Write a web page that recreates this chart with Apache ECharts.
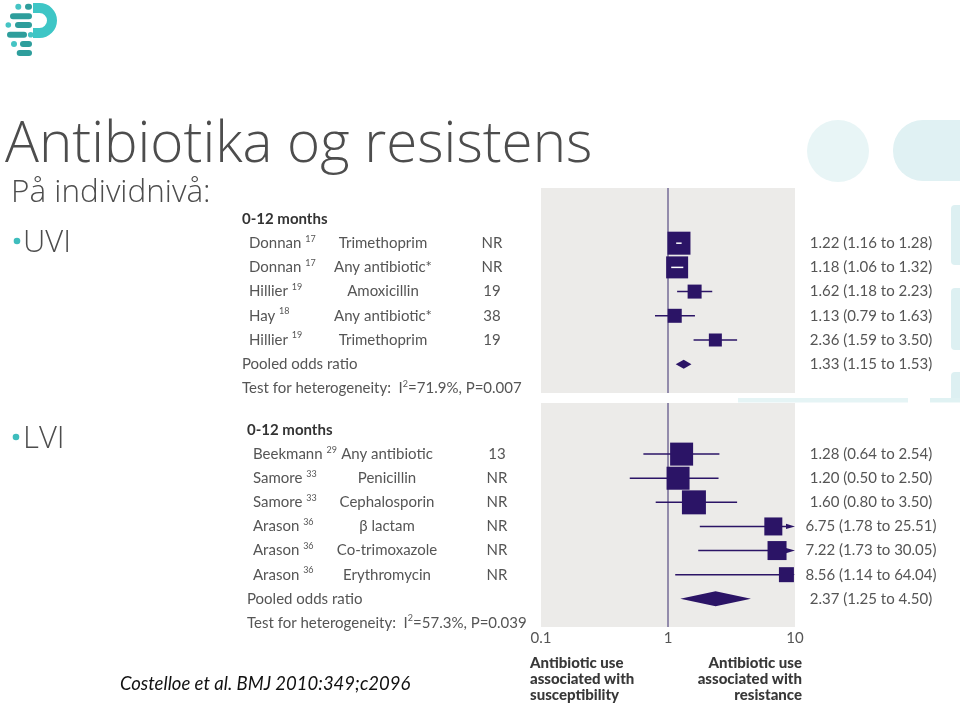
<!DOCTYPE html>
<html><head><meta charset="utf-8">
<script src="https://cdn.jsdelivr.net/npm/echarts@6/dist/echarts.min.js"></script>
<style>html,body{margin:0;padding:0;background:#fff;}#c{width:960px;height:706px;}</style>
</head><body><div id="c"></div><script>
// ---------- DATA ----------
const uviStudy  = ['Donnan', 'Donnan', 'Hillier', 'Hay', 'Hillier'];
const uviRef    = ['17', '17', '19', '18', '19'];
const uviDrug   = ['Trimethoprim', 'Any antibiotic*', 'Amoxicillin', 'Any antibiotic*', 'Trimethoprim'];
const uviN      = ['NR', 'NR', '19', '38', '19'];
const uviOR     = [1.22, 1.18, 1.62, 1.13, 2.36];
const uviLow    = [1.16, 1.06, 1.18, 0.79, 1.59];
const uviHigh   = [1.28, 1.32, 2.23, 1.63, 3.50];
const uviWeight = [23, 22, 14, 14, 13];
const uviPooled = [1.33, 1.15, 1.53];
const uviI2 = '71.9%';
const uviP  = '0.007';

const lviStudy  = ['Beekmann', 'Samore', 'Samore', 'Arason', 'Arason', 'Arason'];
const lviRef    = ['29', '33', '33', '36', '36', '36'];
const lviDrug   = ['Any antibiotic', 'Penicillin', 'Cephalosporin', 'β lactam', 'Co-trimoxazole', 'Erythromycin'];
const lviN      = ['13', 'NR', 'NR', 'NR', 'NR', 'NR'];
const lviOR     = [1.28, 1.20, 1.60, 6.75, 7.22, 8.56];
const lviLow    = [0.64, 0.50, 0.80, 1.78, 1.73, 1.14];
const lviHigh   = [2.54, 2.50, 3.50, 25.51, 30.05, 64.04];
const lviWeight = [23, 23, 24, 18, 19, 15];
const lviPooled = [2.37, 1.25, 4.50];
const lviI2 = '57.3%';
const lviP  = '0.039';

const groupHeader = '0-12 months';
const axisTickValues = [0.1, 1, 10];
const axisTickLabels = ['0.1', '1', '10'];
const axisMin = 0.1, axisMax = 10;

// ---------- STYLE ----------
const NAVY = '#2b1466';
const GRAYBG = '#ecebe9';
const TXT = '#555555';
const FONT = 'Lato';
const SLIDEFONT = 'Open Sans';

const chart = echarts.init(document.getElementById('c'), null, {renderer: 'canvas'});

function fmt(v) { return v.toFixed(2); }
function ciText(or, lo, hi) { return fmt(or) + ' (' + fmt(lo) + ' to ' + fmt(hi) + ')'; }

function makeStudyRenderer(low, high, weight) {
  return function (params, api) {
    const i = params.dataIndex;
    const or = api.value(0), row = api.value(1);
    const cs = params.coordSys;
    const left = cs.x, right = cs.x + cs.width;
    const c = api.coord([or, row]);
    const yc = c[1];
    const xl = Math.max(left, api.coord([low[i], row])[0]);
    const over = high[i] > axisMax;
    const xh = over ? right : api.coord([high[i], row])[0];
    const s = weight[i];
    const children = [];
    const inside = xl >= c[0] - s / 2 && xh <= c[0] + s / 2;
    if (!inside) {
      children.push({type: 'line', shape: {x1: xl, y1: yc, x2: over ? right - 8 : xh, y2: yc},
        style: {stroke: NAVY, lineWidth: 1.5}});
      if (over) {
        children.push({type: 'polygon', shape: {points: [[right - 9, yc - 2.6], [right, yc], [right - 9, yc + 2.6]]},
          style: {fill: NAVY}});
      }
    }
    children.push({type: 'rect', shape: {x: c[0] - s / 2, y: yc - s / 2, width: s, height: s}, style: {fill: NAVY}});
    if (inside) {
      children.push({type: 'line', shape: {x1: xl, y1: yc, x2: xh, y2: yc}, style: {stroke: '#ffffff', lineWidth: 1.5}});
    }
    return {type: 'group', children: children};
  };
}

function makeDiamondRenderer(pooled, halfH) {
  return function (params, api) {
    const row = api.value(1);
    const c = api.coord([pooled[0], row]);
    const l = api.coord([pooled[1], row])[0];
    const r = api.coord([pooled[2], row])[0];
    return {type: 'polygon', shape: {points: [[l, c[1]], [c[0], c[1] - halfH], [r, c[1]], [c[0], c[1] + halfH]]},
      style: {fill: NAVY}};
  };
}

function refLineRenderer(params, api) {
  const cs = params.coordSys;
  const x = api.coord([api.value(0), 0])[0];
  return {type: 'line', shape: {x1: x, y1: cs.y, x2: x, y2: cs.y + cs.height},
    style: {stroke: '#3a2d6e', lineWidth: 1}};
}

function makeTextRenderer(d, cols) {
  const n = d.study.length;
  const rich = {
    t: {fontSize: 15, fontFamily: FONT, fill: TXT, lineHeight: 18},
    s: {fontSize: 9, fontFamily: FONT, fill: TXT, lineHeight: 9, verticalAlign: 'top'}
  };
  return function (params, api) {
    const row = api.value(1);
    const y = api.coord([1, row])[1];
    const kids = [];
    const txt = (x, text, align, extra) => kids.push({type: 'text', x: x, y: y,
      style: Object.assign({text: text, fill: TXT, fontSize: 15, fontFamily: FONT, align: align, verticalAlign: 'middle'}, extra || {})});
    if (row === 0) {
      txt(cols.hdr, groupHeader, 'left', {fontWeight: 'bold', fill: '#333333'});
    } else if (row <= n) {
      const i = row - 1;
      txt(cols.study, '{t|' + d.study[i] + ' }{s|' + d.ref[i] + '}', 'left', {rich: rich});
      txt(cols.drug, d.drug[i], 'center');
      txt(cols.n, d.n[i], 'center');
      txt(cols.val, ciText(d.or[i], d.low[i], d.high[i]), 'center', {fontSize: 15});
    } else if (row === n + 1) {
      txt(cols.hdr, 'Pooled odds ratio', 'left');
      txt(cols.val, ciText(d.pooled[0], d.pooled[1], d.pooled[2]), 'center', {fontSize: 15});
    } else {
      txt(cols.hdr, '{t|Test for heterogeneity:  I}{s|2}{t|=' + d.i2 + ', P=' + d.p + '}', 'left', {rich: rich});
    }
    return {type: 'group', children: kids};
  };
}

const uvi = {study: uviStudy, ref: uviRef, drug: uviDrug, n: uviN, or: uviOR, low: uviLow, high: uviHigh,
  pooled: uviPooled, i2: uviI2, p: uviP};
const lvi = {study: lviStudy, ref: lviRef, drug: lviDrug, n: lviN, or: lviOR, low: lviLow, high: lviHigh,
  pooled: lviPooled, i2: lviI2, p: lviP};

function rows(n) { return Array.from({length: n + 3}, (_, r) => [1, r]); }

const option = {
  animation: false,
  backgroundColor: '#ffffff',
  grid: [
    {left: 541, top: 188, width: 254, height: 205, show: true, backgroundColor: GRAYBG, borderWidth: 0},
    {left: 541, top: 403, width: 254, height: 224, show: true, backgroundColor: GRAYBG, borderWidth: 0}
  ],
  xAxis: [
    {type: 'log', logBase: 10, min: axisMin, max: axisMax, gridIndex: 0, show: false},
    {type: 'log', logBase: 10, min: axisMin, max: axisMax, gridIndex: 1,
      axisLine: {show: false}, axisTick: {show: false}, splitLine: {show: false},
      axisLabel: {margin: 4, color: TXT, fontSize: 15, fontFamily: FONT,
        formatter: v => { const k = axisTickValues.findIndex(t => Math.abs(Math.log10(t) - Math.log10(v)) < 1e-6); return k >= 0 ? axisTickLabels[k] : ''; }}}
  ],
  yAxis: [
    {type: 'value', inverse: true, min: -1.28, max: 7.19, gridIndex: 0, show: false},
    {type: 'value', inverse: true, min: -1.12, max: 8.17, gridIndex: 1, show: false}
  ],
  series: [
    {type: 'custom', xAxisIndex: 0, yAxisIndex: 0, data: [[1, 0]], renderItem: refLineRenderer, silent: true, z: 2},
    {type: 'custom', xAxisIndex: 1, yAxisIndex: 1, data: [[1, 0]], renderItem: refLineRenderer, silent: true, z: 2},
    {type: 'custom', xAxisIndex: 0, yAxisIndex: 0, data: uviOR.map((v, i) => [v, i + 1]),
      renderItem: makeStudyRenderer(uviLow, uviHigh, uviWeight), silent: true, z: 3},
    {type: 'custom', xAxisIndex: 1, yAxisIndex: 1, data: lviOR.map((v, i) => [v, i + 1]),
      renderItem: makeStudyRenderer(lviLow, lviHigh, lviWeight), silent: true, z: 3},
    {type: 'custom', xAxisIndex: 0, yAxisIndex: 0, data: [[uviPooled[0], uviOR.length + 1]],
      renderItem: makeDiamondRenderer(uviPooled, 4.5), silent: true, z: 3},
    {type: 'custom', xAxisIndex: 1, yAxisIndex: 1, data: [[lviPooled[0], lviOR.length + 1]],
      renderItem: makeDiamondRenderer(lviPooled, 7.5), silent: true, z: 3},
    {type: 'custom', xAxisIndex: 0, yAxisIndex: 0, data: rows(uviOR.length), clip: false,
      renderItem: makeTextRenderer(uvi, {hdr: 242, study: 249, drug: 383, n: 492, val: 871}), silent: true, z: 4},
    {type: 'custom', xAxisIndex: 1, yAxisIndex: 1, data: rows(lviOR.length), clip: false,
      renderItem: makeTextRenderer(lvi, {hdr: 247, study: 253, drug: 387, n: 497, val: 871}), silent: true, z: 4}
  ],
  graphic: [
    // faint decorative shapes (right)
    {type: 'group', silent: true, z: -10, children: [
      {type: 'circle', shape: {cx: 838, cy: 151, r: 31}, style: {fill: '#e8f5f6'}},
      {type: 'rect', shape: {x: 893, y: 120, width: 80, height: 61, r: [30, 0, 0, 30]}, style: {fill: '#e0f1f3'}},
      {type: 'rect', shape: {x: 951, y: 205, width: 12, height: 60, r: [4, 0, 0, 4]}, style: {fill: '#ddf0f2'}},
      {type: 'rect', shape: {x: 951, y: 288, width: 12, height: 62, r: [4, 0, 0, 4]}, style: {fill: '#ddf0f2'}},
      {type: 'rect', shape: {x: 951, y: 372, width: 12, height: 30, r: [4, 0, 0, 4]}, style: {fill: '#ddf0f2'}},
      {type: 'rect', shape: {x: 738, y: 398, width: 170, height: 4.5}, style: {fill: '#e5f4f5'}},
      {type: 'rect', shape: {x: 930, y: 398, width: 30, height: 4.5}, style: {fill: '#e0f2f3'}}
    ]},
    // logo
    {type: 'group', silent: true, children: [
      {type: 'sector', shape: {cx: 39.5, cy: 20.5, r: 17.5, r0: 7.5, startAngle: -Math.PI / 2, endAngle: Math.PI / 2}, style: {fill: '#3ec6c6'}},
      {type: 'rect', shape: {x: 33, y: 3, width: 7, height: 10}, style: {fill: '#3ec6c6'}},
      {type: 'rect', shape: {x: 33, y: 28, width: 7, height: 10}, style: {fill: '#3ec6c6'}},
      {type: 'circle', shape: {cx: 18.3, cy: 6.7, r: 3}, style: {fill: '#45c4c4'}},
      {type: 'circle', shape: {cx: 8.3, cy: 25, r: 2.8}, style: {fill: '#45c4c4'}},
      {type: 'circle', shape: {cx: 30.7, cy: 34.7, r: 2.8}, style: {fill: '#45c4c4'}},
      {type: 'circle', shape: {cx: 14, cy: 44, r: 3}, style: {fill: '#45c4c4'}},
      {type: 'rect', shape: {x: 25, y: 3.7, width: 7, height: 6, r: 3}, style: {fill: '#2e9e9c'}},
      {type: 'rect', shape: {x: 10, y: 13.3, width: 22, height: 6, r: 3}, style: {fill: '#2e9e9c'}},
      {type: 'rect', shape: {x: 15, y: 22, width: 17, height: 6, r: 3}, style: {fill: '#2e9e9c'}},
      {type: 'rect', shape: {x: 7, y: 31.7, width: 20, height: 6, r: 3}, style: {fill: '#2e9e9c'}},
      {type: 'rect', shape: {x: 20, y: 41, width: 12, height: 6, r: 3}, style: {fill: '#2e9e9c'}},
      {type: 'rect', shape: {x: 16.7, y: 50, width: 15.3, height: 6, r: 3}, style: {fill: '#2e9e9c'}}
    ]},
    // slide texts
    {type: 'text', x: 5, y: 146, style: {text: 'Antibiotika og resistens', fill: '#4d4d4d', fontSize: 56.5, fontWeight: 300, fontFamily: SLIDEFONT, verticalAlign: 'middle'}},
    {type: 'text', x: 11, y: 193, style: {text: 'På individnivå:', fill: '#4d4d4d', fontSize: 31.5, fontWeight: 300, fontFamily: SLIDEFONT, verticalAlign: 'middle'}},
    {type: 'circle', shape: {cx: 17, cy: 241, r: 3.3}, style: {fill: '#3ebdbd'}},
    {type: 'text', x: 23, y: 243, style: {text: 'UVI', fill: '#4d4d4d', fontSize: 31, fontWeight: 300, fontFamily: SLIDEFONT, verticalAlign: 'middle'}},
    {type: 'circle', shape: {cx: 16, cy: 437, r: 3.3}, style: {fill: '#3ebdbd'}},
    {type: 'text', x: 23, y: 439, style: {text: 'LVI', fill: '#4d4d4d', fontSize: 31, fontWeight: 300, fontFamily: SLIDEFONT, verticalAlign: 'middle'}},
    {type: 'text', x: 120, y: 684, style: {text: 'Costelloe et al. BMJ 2010:349;c2096', fill: '#111111', fontSize: 18.5, fontStyle: 'italic', fontFamily: FONT, verticalAlign: 'middle'}},
    {type: 'text', x: 530, y: 655, style: {text: 'Antibiotic use\nassociated with\nsusceptibility', fill: '#383838', fontSize: 15, fontWeight: 900, fontFamily: FONT, lineHeight: 16, align: 'left', verticalAlign: 'top'}},
    {type: 'text', x: 802, y: 655, style: {text: 'Antibiotic use\nassociated with\nresistance', fill: '#383838', fontSize: 15, fontWeight: 900, fontFamily: FONT, lineHeight: 16, align: 'right', verticalAlign: 'top'}}
  ]
};
chart.setOption(option);
</script></body></html>
